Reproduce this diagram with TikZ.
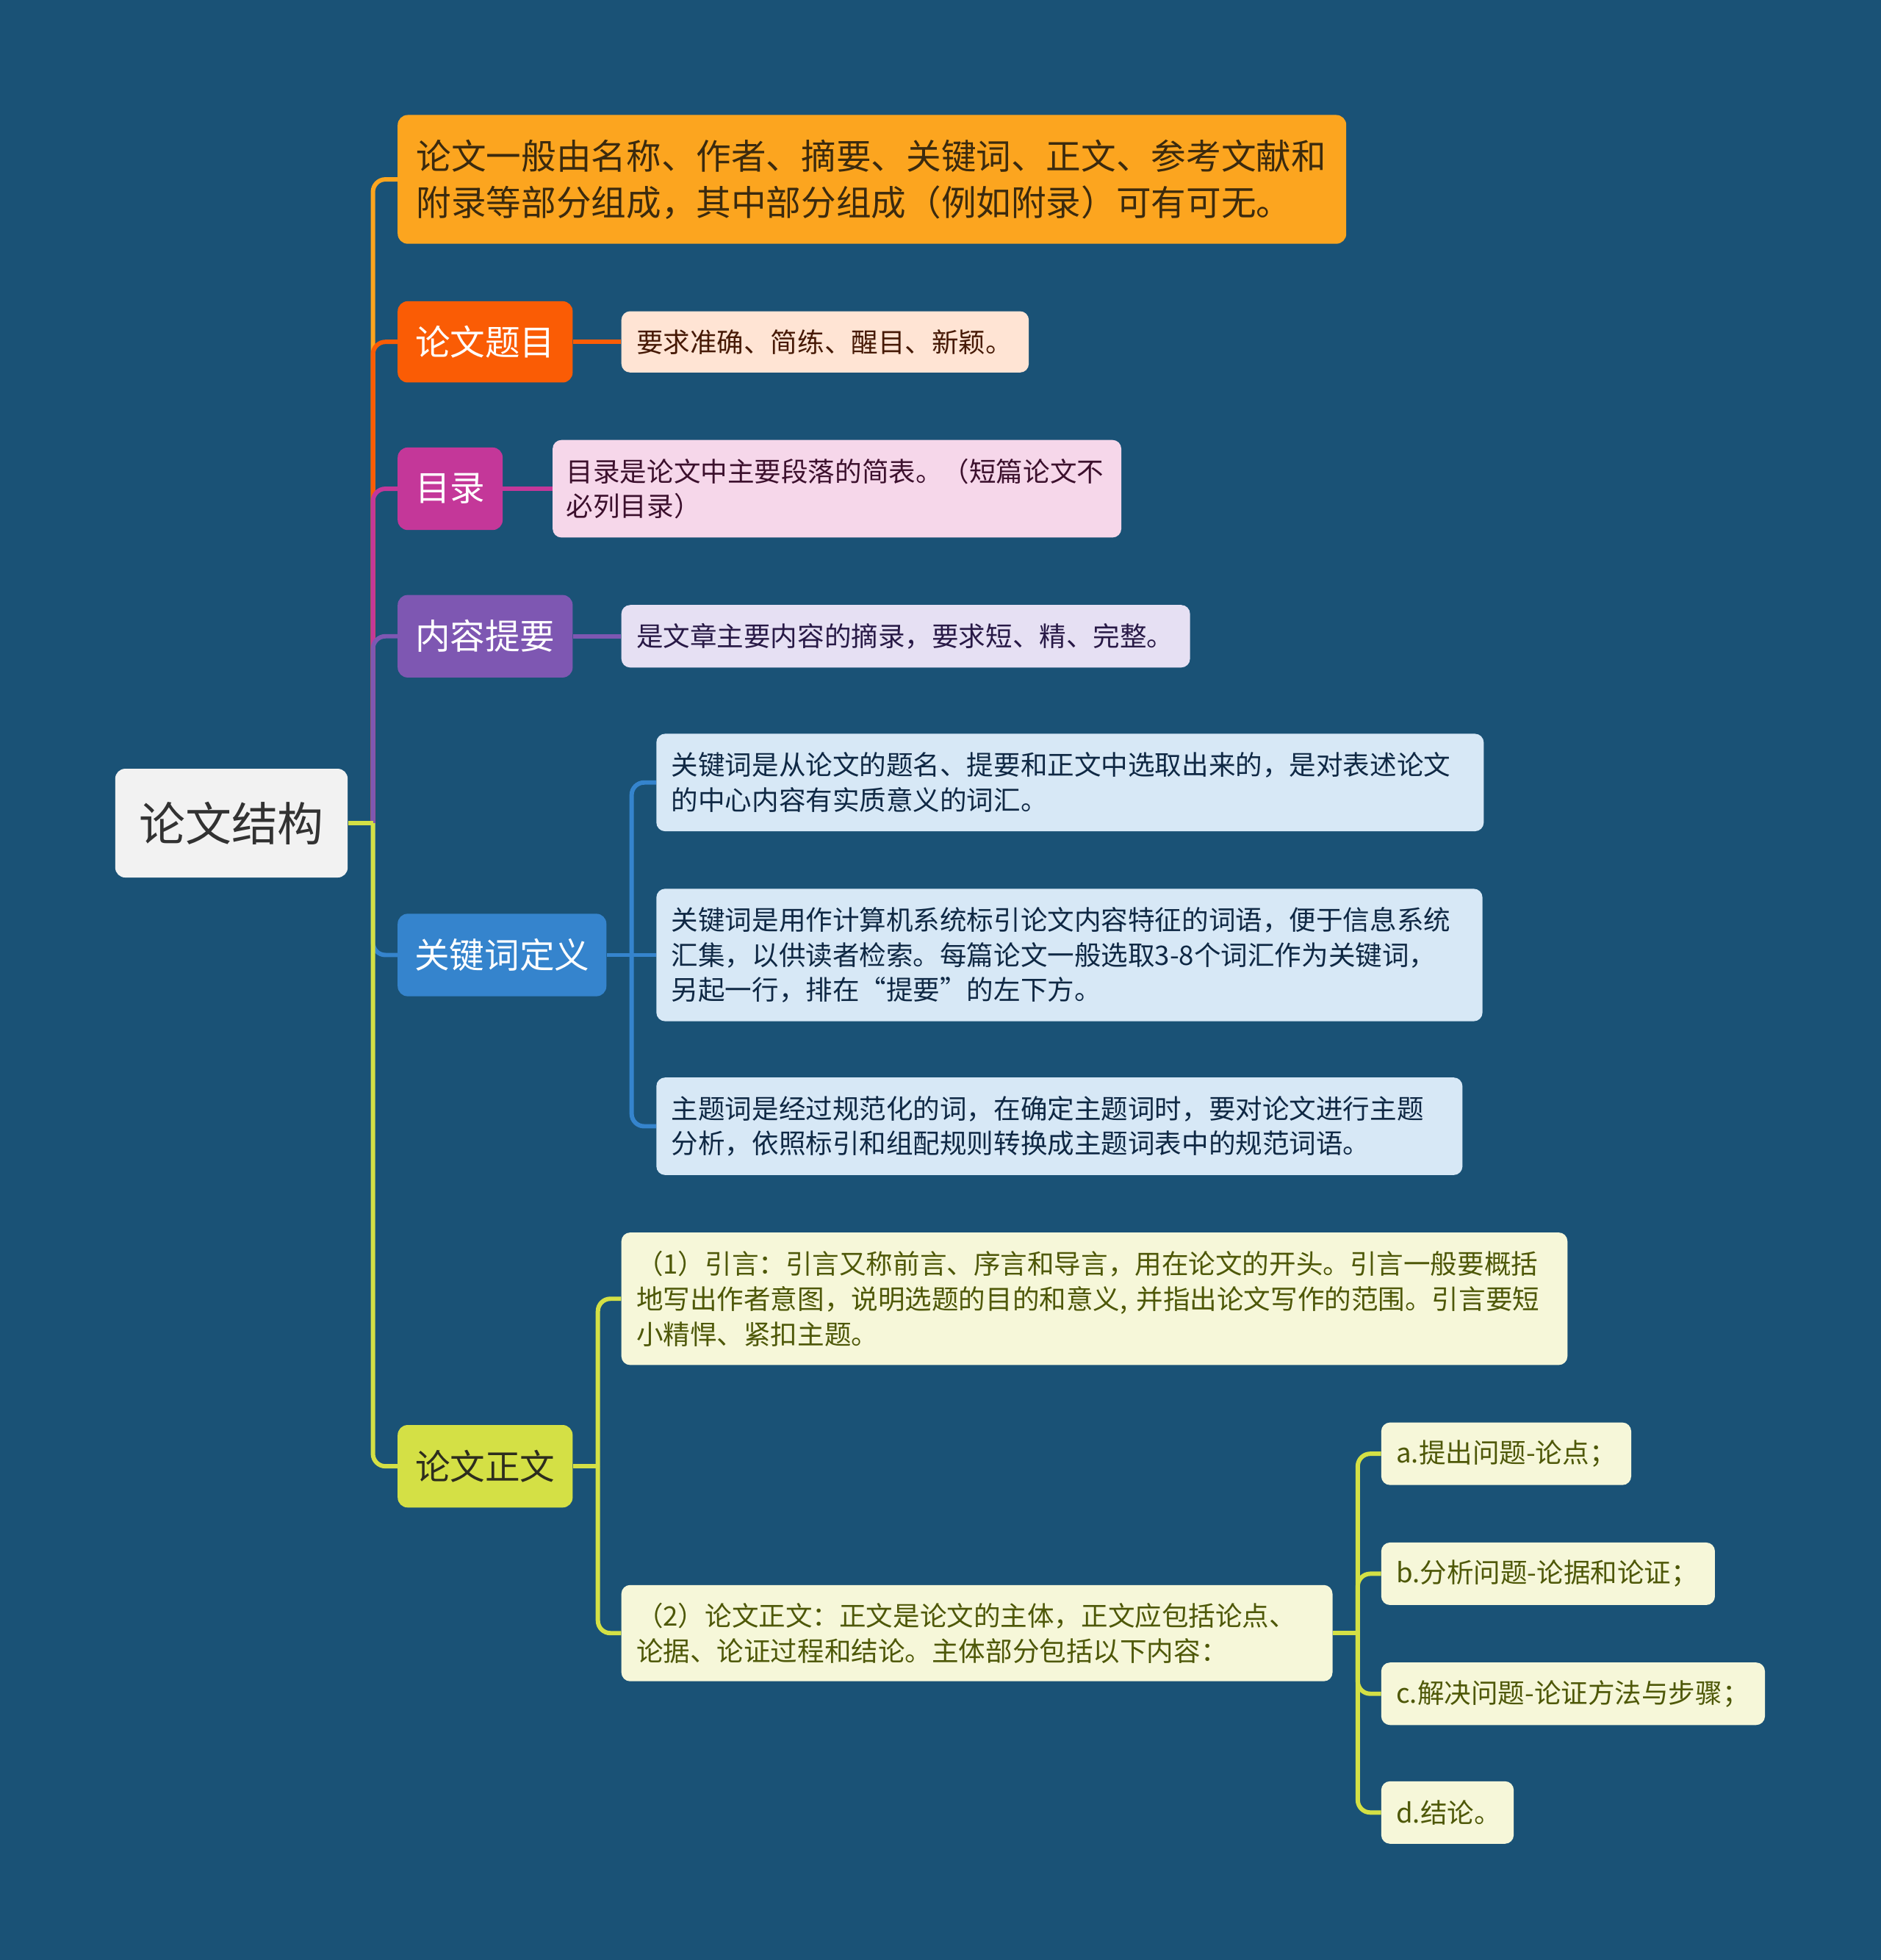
\documentclass[tikz,border=0pt]{standalone}
\usepackage{fontspec}
\setmainfont{Noto Sans CJK SC}
\usepackage{tikz}
\usetikzlibrary{calc}
\usetikzlibrary{positioning}
\definecolor{bgblue}{RGB}{26,82,118}
\definecolor{rootfill}{RGB}{242,242,242}
\definecolor{roottext}{RGB}{50,50,50}
\definecolor{introorange}{RGB}{252,165,31}
\definecolor{introtext}{RGB}{59,42,14}
\definecolor{titlered}{RGB}{250,92,5}
\definecolor{titlepale}{RGB}{255,228,212}
\definecolor{titletext}{RGB}{70,25,5}
\definecolor{tocpink}{RGB}{196,55,153}
\definecolor{tocpale}{RGB}{246,215,234}
\definecolor{toctext}{RGB}{60,16,45}
\definecolor{abspurple}{RGB}{126,87,178}
\definecolor{abspale}{RGB}{230,224,243}
\definecolor{abstext}{RGB}{40,25,70}
\definecolor{kwblue}{RGB}{53,132,205}
\definecolor{kwpale}{RGB}{215,232,246}
\definecolor{kwtext}{RGB}{15,40,68}
\definecolor{bodygreen}{RGB}{212,224,69}
\definecolor{bodylabel}{RGB}{45,45,30}
\definecolor{bodypale}{RGB}{246,247,217}
\definecolor{bodytext}{RGB}{78,88,8}
\tikzset{
  rootbox/.style={rounded corners=8pt, anchor=west, inner sep=0pt, fill=rootfill, text=roottext, font=\fontsize{37}{44}\selectfont},
  mainbox/.style={rounded corners=8pt, anchor=west, inner sep=0pt, text=white, font=\fontsize{28}{37}\selectfont},
  leafbox/.style={rounded corners=7pt, anchor=west, inner xsep=12pt, inner ysep=0pt, align=left, font=\fontsize{21.5}{28}\selectfont},
  link/.style={line width=3.5pt, rounded corners=10pt},
}

\begin{document}
\begin{tikzpicture}[x=1pt, y=-1pt]
      \fill [bgblue] (0, 0) rectangle (1505, 1568);

      \node (root) at (92, 658.5) [rootbox, minimum width=186pt, minimum height=87pt] {论文结构};

      \node (intro) at (318, 143.5) [mainbox, fill=introorange, text=introtext, minimum height=103pt, inner xsep=15pt, text width=729pt, align=left] {论文一般由名称、作者、摘要、关键词、正文、参考文献和\\附录等部分组成，其中部分组成（例如附录）可有可无。};

      \node (title) at (318, 273.5) [mainbox, fill=titlered, minimum width=140pt, minimum height=65pt] {论文题目};
      \node (titlenote) at (497, 273.5) [leafbox, fill=titlepale, text=titletext, minimum height=49pt, text width=302pt] {要求准确、简练、醒目、新颖。};

      \node (toc) at (318, 391) [mainbox, fill=tocpink, minimum width=84pt, minimum height=66pt] {目录};
      \node (tocnote) at (442, 391) [leafbox, fill=tocpale, text=toctext, minimum height=78pt, inner xsep=11pt, text width=433pt] {目录是论文中主要段落的简表。（短篇论文不\\必列目录）};

      \node (abstract) at (318, 509) [mainbox, fill=abspurple, minimum width=140pt, minimum height=66pt] {内容提要};
      \node (absnote) at (497, 509) [leafbox, fill=abspale, text=abstext, minimum height=50pt, text width=431pt] {是文章主要内容的摘录，要求短、精、完整。};

      \node (keyword) at (318, 764) [mainbox, fill=kwblue, minimum width=167pt, minimum height=66pt] {关键词定义};
      \node (kwa) at (525, 626) [leafbox, fill=kwpale, text=kwtext, minimum height=78pt, text width=638pt] {关键词是从论文的题名、提要和正文中选取出来的，是对表述论文\\的中心内容有实质意义的词汇。};
      \node (kwb) at (525, 764) [leafbox, fill=kwpale, text=kwtext, minimum height=106pt, text width=637pt] {关键词是用作计算机系统标引论文内容特征的词语，便于信息系统\\汇集，以供读者检索。每篇论文一般选取3-8个词汇作为关键词，\\另起一行，排在“提要”的左下方。};
      \node (kwc) at (525, 901) [leafbox, fill=kwpale, text=kwtext, minimum height=78pt, text width=621pt] {主题词是经过规范化的词，在确定主题词时，要对论文进行主题\\分析，依照标引和组配规则转换成主题词表中的规范词语。};

      \node (body) at (318, 1173) [mainbox, fill=bodygreen, text=bodylabel, minimum width=140pt, minimum height=66pt] {论文正文};
      \node (bodya) at (497, 1039) [leafbox, fill=bodypale, text=bodytext, minimum height=106pt, text width=733pt] {（1）引言：引言又称前言、序言和导言，用在论文的开头。引言一般要概括\\地写出作者意图，说明选题的目的和意义, 并指出论文写作的范围。引言要短\\小精悍、紧扣主题。};
      \node (bodyb) at (497, 1306.5) [leafbox, fill=bodypale, text=bodytext, minimum height=77pt, text width=545pt] {（2）论文正文：正文是论文的主体，正文应包括论点、\\论据、论证过程和结论。主体部分包括以下内容：};

      \node (stepa) at (1105, 1163) [leafbox, fill=bodypale, text=bodytext, minimum height=50pt, text width=176pt] {\mbox{a.提出问题-论点；}};
      \node (stepb) at (1105, 1259) [leafbox, fill=bodypale, text=bodytext, minimum height=50pt, text width=243pt] {\mbox{b.分析问题-论据和论证；}};
      \node (stepc) at (1105, 1355) [leafbox, fill=bodypale, text=bodytext, minimum height=50pt, text width=283pt] {\mbox{c.解决问题-论证方法与步骤；}};
      \node (stepd) at (1105, 1450) [leafbox, fill=bodypale, text=bodytext, minimum height=50pt, text width=82pt] {d.结论。};

      \coordinate (roothub) at ($(root.east)+(20, 0)$);
      \draw [link, introorange] (roothub) |- (intro.west);
      \draw [link, titlered] (roothub) |- (title.west);
      \draw [link, tocpink] (roothub) |- (toc.west);
      \draw [link, abspurple] (roothub) |- (abstract.west);
      \draw [link, kwblue] (roothub) |- (keyword.west);
      \draw [link, bodygreen] (roothub) |- (body.west);
      \draw [link, bodygreen] (root.east) -- (roothub);

      \draw [link, titlered] (title.east) -- (titlenote.west);
      \draw [link, tocpink] (toc.east) -- (tocnote.west);
      \draw [link, abspurple] (abstract.east) -- (absnote.west);

      \coordinate (kwhub) at ($(keyword.east)+(20, 0)$);
      \draw [link, kwblue] (keyword.east) -- (kwb.west);
      \draw [link, kwblue] (kwhub) |- (kwa.west);
      \draw [link, kwblue] (kwhub) |- (kwc.west);

      \coordinate (bodyhub) at ($(body.east)+(20, 0)$);
      \draw [link, bodygreen] (body.east) -- (bodyhub);
      \draw [link, bodygreen] (bodyhub) |- (bodya.west);
      \draw [link, bodygreen] (bodyhub) |- (bodyb.west);

      \coordinate (stephub) at ($(bodyb.east)+(20, 0)$);
      \draw [link, bodygreen] (bodyb.east) -- (stephub);
      \draw [link, bodygreen] (stephub) |- (stepa.west);
      \draw [link, bodygreen] (stephub) |- (stepb.west);
      \draw [link, bodygreen] (stephub) |- (stepc.west);
      \draw [link, bodygreen] (stephub) |- (stepd.west);
    \end{tikzpicture}
\end{document}
